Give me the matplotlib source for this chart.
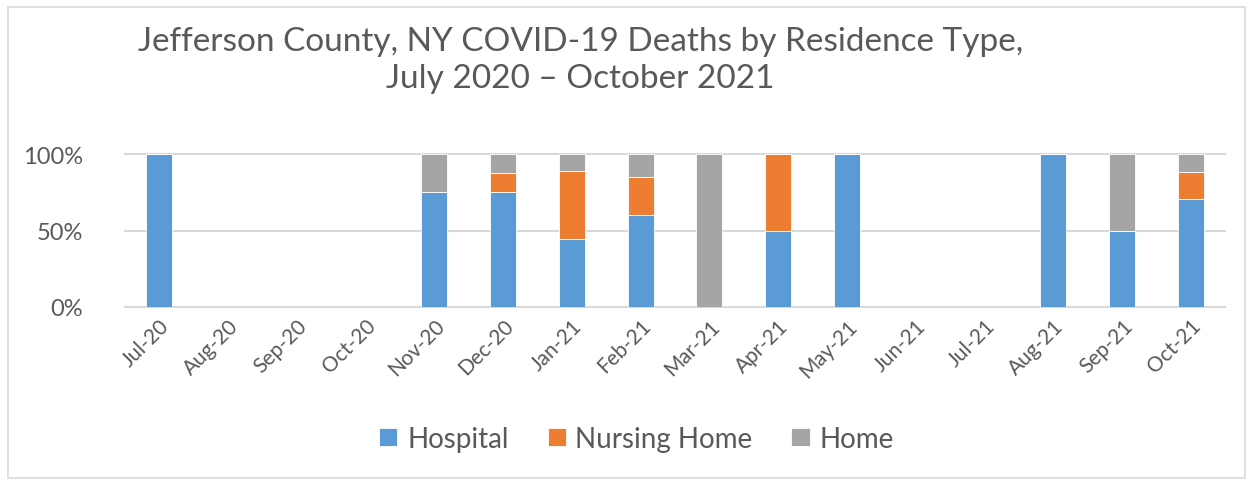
import numpy as np
import matplotlib
matplotlib.use("Agg")
import matplotlib.pyplot as plt
from matplotlib.patches import Rectangle
from matplotlib.ticker import FuncFormatter

plt.rcParams["font.family"] = ["Lato", "DejaVu Sans"]

months = ["Jul-20", "Aug-20", "Sep-20", "Oct-20", "Nov-20", "Dec-20", "Jan-21", "Feb-21",
          "Mar-21", "Apr-21", "May-21", "Jun-21", "Jul-21", "Aug-21", "Sep-21", "Oct-21"]
hospital = [1.0, 0, 0, 0, 0.75, 0.75, 4/9, 0.60, 0, 0.5, 1.0, 0, 0, 1.0, 0.5, 12/17]
nursing_home = [0, 0, 0, 0, 0, 0.125, 4/9, 0.25, 0, 0.5, 0, 0, 0, 0, 0, 3/17]
home = [0, 0, 0, 0, 0.25, 0.125, 1/9, 0.15, 1.0, 0, 0, 0, 0, 0, 0.5, 2/17]

c_blue, c_orange, c_grey = "#5B9BD5", "#ED7D31", "#A5A5A5"
txt = "#595959"

fig = plt.figure(figsize=(12.53, 4.85), dpi=100)
ax = fig.add_axes([0.0994, 0.365, 0.8786, 0.315])

x = np.arange(len(months))
h = np.array(hospital)
n = np.array(nursing_home)
o = np.array(home)
w = 0.38
ax.bar(x, h, w, color=c_blue, edgecolor="white", linewidth=0.6, label="Hospital", zorder=3)
ax.bar(x, n, w, bottom=h, color=c_orange, edgecolor="white", linewidth=0.6, label="Nursing Home", zorder=3)
ax.bar(x, o, w, bottom=h + n, color=c_grey, edgecolor="white", linewidth=0.6, label="Home", zorder=3)

ax.set_xlim(-0.5, len(months) - 0.5)
ax.set_ylim(0, 1)
ax.set_yticks([0, 0.5, 1.0])
ax.yaxis.set_major_formatter(FuncFormatter(lambda v, p: f"{v:.0%}"))
for yv in [0, 0.5, 1.0]:
    ax.axhline(yv, color="#D9D9D9", lw=1.5, zorder=1, clip_on=False)
for s in ax.spines.values():
    s.set_visible(False)
ax.tick_params(axis="both", length=0)
ax.tick_params(axis="y", labelsize=17, labelcolor=txt, pad=30)
ax.set_xticks(x)
ax.set_xticklabels(months, rotation=45, ha="right", rotation_mode="anchor", fontsize=15, color=txt)
ax.tick_params(axis="x", pad=6)

fig.text(0.463, 0.876, "Jefferson County, NY COVID-19 Deaths by Residence Type,\nJuly 2020 \u2013 October 2021",
         ha="center", va="center", fontsize=24, color=txt, linespacing=1.3)

ax.legend(loc="center", bbox_to_anchor=(0.508, 0.093), bbox_transform=fig.transFigure, ncol=3,
          frameon=False, fontsize=20, labelcolor=txt, handlelength=0.65, handleheight=0.65,
          columnspacing=1.4, handletextpad=0.35)

fig.patches.append(Rectangle((0.006, 0.012), 0.988, 0.972, transform=fig.transFigure,
                             fill=False, edgecolor="#D9D9D9", lw=1.2))

fig.savefig("out.png", dpi=100)
